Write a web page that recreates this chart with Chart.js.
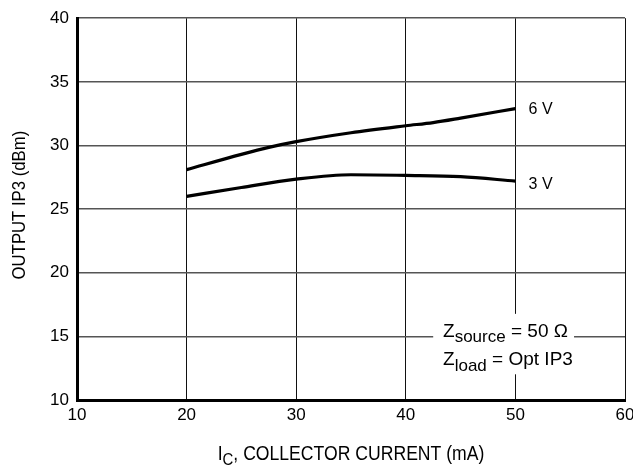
<!DOCTYPE html>
<html>
<head>
<meta charset="utf-8">
<script src="https://cdn.jsdelivr.net/npm/chart.js@4.4.1/dist/chart.umd.min.js"></script>
<style>
  html, body { margin: 0; padding: 0; background: #fff; }
  #wrap { width: 633px; height: 468px; }
</style>
</head>
<body>
<div id="wrap"><canvas id="ip3Chart" width="633" height="468"></canvas></div>
<script>
// Collector current (mA) and output IP3 (dBm)
const current6V = [20, 25, 27.5, 30, 35, 40, 42.5, 45, 50];
const ip3At6V = [28.1, 29.3, 29.85, 30.3, 31.0, 31.55, 31.8, 32.15, 32.9];
const current3V = [20, 25, 30, 35, 40, 45, 50];
const ip3At3V = [26.0, 26.7, 27.35, 27.7, 27.65, 27.55, 27.2];

const xTicks = [10, 20, 30, 40, 50, 60];
const yTicks = [10, 15, 20, 25, 30, 35, 40];

const FONT = "'Liberation Sans', Arial, sans-serif";

function toPoints(xs, ys) {
    return xs.map(function (x, i) { return { x: x, y: ys[i] }; });
}

// draw text with a subscript part (condensed by sx), returns end x
function subText(ctx, x, y, main, sub, rest, size, subSize, drop, sx) {
    ctx.save();
    ctx.translate(x, y);
    ctx.scale(sx, 1);
    let cx = 0;
    ctx.font = size + 'px ' + FONT;
    ctx.fillText(main, cx, 0);
    cx += ctx.measureText(main).width;
    ctx.font = subSize + 'px ' + FONT;
    ctx.fillText(sub, cx, drop);
    cx += ctx.measureText(sub).width;
    ctx.font = size + 'px ' + FONT;
    ctx.fillText(rest, cx, 0);
    cx += ctx.measureText(rest).width;
    ctx.restore();
    return cx * sx;
}

function subWidth(ctx, main, sub, rest, size, subSize, sx) {
    ctx.font = size + 'px ' + FONT;
    let w = ctx.measureText(main).width + ctx.measureText(rest).width;
    ctx.font = subSize + 'px ' + FONT;
    w += ctx.measureText(sub).width;
    return w * sx;
}

const extrasPlugin = {
    id: 'extras',
    afterDatasetsDraw: function (chart) {
        const ctx = chart.ctx;
        const xs = chart.scales.x;
        const ys = chart.scales.y;
        const area = chart.chartArea;
        ctx.save();
        ctx.fillStyle = '#000';
        ctx.textBaseline = 'middle';
        ctx.textAlign = 'left';

        // curve labels
        ctx.font = '16px ' + FONT;
        ctx.fillText('6 V', xs.getPixelForValue(51.2), ys.getPixelForValue(ip3At6V[ip3At6V.length - 1]) + 1);
        ctx.fillText('3 V', xs.getPixelForValue(51.2), ys.getPixelForValue(ip3At3V[ip3At3V.length - 1]) + 3);

        // condition box (blanks the grid behind it)
        const bx = xs.getPixelForValue(42.5);
        const bw = xs.getPixelForValue(55.35) - bx;
        const by = ys.getPixelForValue(16.77);
        const bh = ys.getPixelForValue(12.02) - by;
        ctx.fillStyle = '#fff';
        ctx.fillRect(bx, by, bw, bh);
        ctx.fillStyle = '#000';
        ctx.textBaseline = 'alphabetic';
        const tx = xs.getPixelForValue(43.4);
        subText(ctx, tx, ys.getPixelForValue(15) + 1, 'Z', 'source', ' = 50 Ω', 19, 17, 5, 1.0);
        subText(ctx, tx, ys.getPixelForValue(15) + 29, 'Z', 'load', ' = Opt IP3', 19, 17, 6, 1.0);

        // x axis title
        const title = ', COLLECTOR CURRENT (mA)';
        const w = subWidth(ctx, 'I', 'C', title, 20, 17, 0.88);
        const cx = (area.left + area.right) / 2;
        subText(ctx, cx - w / 2, 460, 'I', 'C', title, 20, 17, 5, 0.88);

        // y axis title
        ctx.translate(20, (area.top + area.bottom) / 2 - 4);
        ctx.rotate(-Math.PI / 2);
        ctx.scale(0.88, 1);
        ctx.textAlign = 'center';
        ctx.textBaseline = 'middle';
        ctx.font = '19px ' + FONT;
        ctx.fillText('OUTPUT IP3 (dBm)', 0, 0);
        ctx.restore();
    }
};

document.addEventListener('DOMContentLoaded', function () {
    const ctx = document.getElementById('ip3Chart').getContext('2d');
    new Chart(ctx, {
        type: 'scatter',
        data: {
            datasets: [{
                label: '6 V',
                data: toPoints(current6V, ip3At6V),
                showLine: true,
                borderColor: '#000',
                borderWidth: 3.2,
                pointRadius: 0,
                tension: 0.4,
                cubicInterpolationMode: 'monotone'
            }, {
                label: '3 V',
                data: toPoints(current3V, ip3At3V),
                showLine: true,
                borderColor: '#000',
                borderWidth: 3.2,
                pointRadius: 0,
                tension: 0.4,
                cubicInterpolationMode: 'monotone'
            }]
        },
        options: {
            responsive: false,
            animation: false,
            devicePixelRatio: 1,
            layout: { padding: { top: 15, right: 8, left: 0, bottom: 0 } },
            plugins: {
                legend: { display: false },
                tooltip: { enabled: false }
            },
            scales: {
                x: {
                    type: 'linear',
                    min: 10,
                    max: 60,
                    afterBuildTicks: function (scale) {
                        scale.ticks = xTicks.map(function (v) { return { value: v }; });
                    },
                    afterFit: function (scale) {
                        scale.height = 68;
                        scale.paddingRight = 0;
                        scale.paddingLeft = 0;
                    },
                    grid: { color: '#111', lineWidth: 1, drawTicks: false },
                    border: { display: true, color: '#000', width: 3 },
                    ticks: {
                        color: '#000',
                        padding: 5,
                        font: { family: FONT, size: 17 }
                    }
                },
                y: {
                    type: 'linear',
                    min: 10,
                    max: 40,
                    afterBuildTicks: function (scale) {
                        scale.ticks = yTicks.map(function (v) { return { value: v }; });
                    },
                    afterFit: function (scale) {
                        scale.width = 77;
                    },
                    grid: { color: '#555', lineWidth: 1.6, drawTicks: false },
                    border: { display: true, color: '#000', width: 3 },
                    ticks: {
                        color: '#000',
                        padding: 8,
                        font: { family: FONT, size: 17 }
                    }
                }
            }
        },
        plugins: [extrasPlugin]
    });
});
</script>
</body>
</html>
